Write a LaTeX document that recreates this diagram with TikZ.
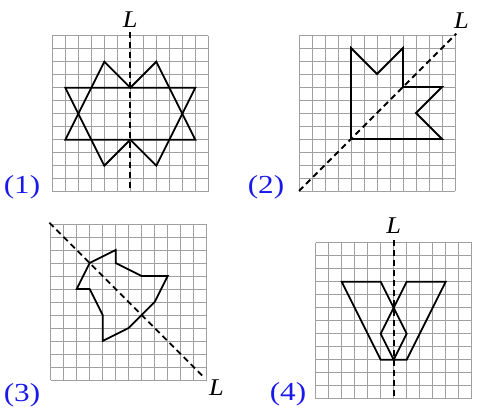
\documentclass[tikz,border=0pt]{standalone}
\usepackage{fontspec}
\setmainfont{Liberation Serif}
\definecolor{labblue}{RGB}{25,25,235}
\definecolor{gridgray}{RGB}{160,160,160}
\newcommand{\numlab}[1]{\scalebox{1.2}[1]{#1}}
\newcommand{\axlab}{\scalebox{1.1}[1]{\itshape L}}
\begin{document}
\begin{tikzpicture}[x=1pt,y=-1pt]
\useasboundingbox (0,0) rectangle (478,411);
\tikzset{
  gridl/.style={draw=gridgray, line width=0.9pt},
  shp/.style={line width=1.8pt, line join=miter},
  axis/.style={line width=1.8pt, dash pattern=on 6pt off 4pt},
  numtxt/.style={text=labblue, font=\fontsize{26}{26}\selectfont, inner sep=0pt},
  axtxt/.style={font=\fontsize{24}{24}\selectfont, inner sep=0pt},
  panel/.style={x=13pt, y=-13pt}
}
\newcommand{\panelgrid}{\foreach \i in {0,...,12} {\draw[gridl] (\i,0) -- (\i,12); \draw[gridl] (0,\i) -- (12,\i);}}
% Panel 1
\begin{scope}[shift={(52.3,35.7)}, panel]
  \panelgrid
  \draw[shp] (1,4) -- (11,4) -- (8,10) -- (6,8) -- (4,10) -- cycle;
  \draw[shp] (1,8) -- (11,8) -- (8,2) -- (6,4) -- (4,2) -- cycle;
  \coordinate (a1s) at (6,-0.3);
  \coordinate (a1e) at (6,11.75);
  \draw[axis] (a1s) -- (a1e);
  \node[axtxt] (L1) at (6,-1.2) {\axlab};
\end{scope}
% Panel 2
\begin{scope}[shift={(299,35)}, panel]
  \panelgrid
  \draw[shp] (4,1) -- (6,3) -- (8,1) -- (8,4) -- (11,4) -- (9,6) -- (11,8) -- (4,8) -- cycle;
  \coordinate (a2s) at (0,12);
  \coordinate (a2e) at (12.1,-0.1);
  \draw[axis] (a2s) -- (a2e);
  \node[axtxt] (L2) at (12.5,-1.1) {\axlab};
\end{scope}
% Panel 3
\begin{scope}[shift={(50.7,224)}, panel]
  \panelgrid
  \draw[shp] (3,3) -- (5,2) -- (5,3) -- (7,4) -- (9,4) -- (8,6) -- (6,8) -- (4,9) -- (4,7) -- (3,5) -- (2,5) -- cycle;
  \coordinate (a3s) at (-0.1,-0.1);
  \coordinate (a3e) at (11.85,11.85);
  \draw[axis] (a3s) -- (a3e);
  \node[axtxt] (L3) at (12.75,12.55) {\axlab};
\end{scope}
% Panel 4
\begin{scope}[shift={(315.7,242.7)}, panel]
  \panelgrid
  \draw[shp] (2,3) -- (5,3) -- (7,7) -- (6,9) -- (5,9) -- cycle;
  \draw[shp] (10,3) -- (7,3) -- (5,7) -- (6,9) -- (7,9) -- cycle;
  \coordinate (a4s) at (6,-0.2);
  \coordinate (a4e) at (6,11.8);
  \draw[axis] (a4s) -- (a4e);
  \node[axtxt] (L4) at (6,-1.35) {\axlab};
\end{scope}
% Panel numbers
\node[numtxt] (n1) at (22,187) {\numlab{(1)}};
\node[numtxt] (n2) at (266,187) {\numlab{(2)}};
\node[numtxt] (n3) at (22,395) {\numlab{(3)}};
\node[numtxt] (n4) at (288,394) {\numlab{(4)}};
\end{tikzpicture}
\end{document}
